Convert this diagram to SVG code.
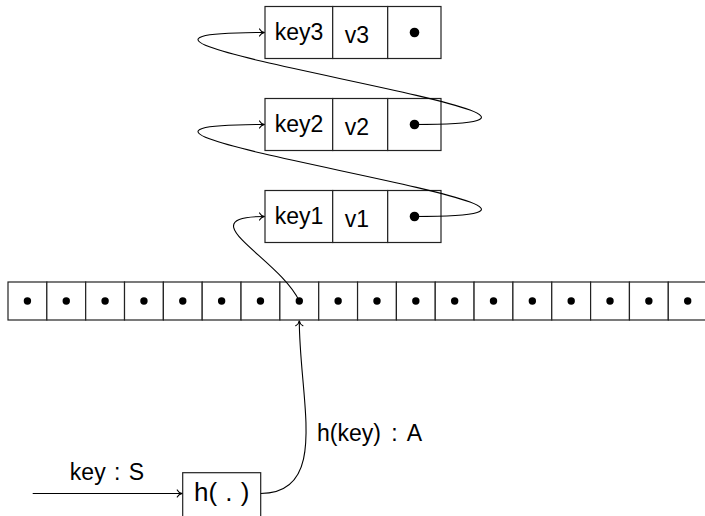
<svg xmlns="http://www.w3.org/2000/svg" width="705" height="516" viewBox="0 0 705 516">
  <style>
    .cell { fill: #fff; stroke: #222; stroke-width: 1.2; }
    .lbl { font-family: "Liberation Sans", Arial, sans-serif; font-size: 23px; fill: #000; text-anchor: middle; }
    .dot { fill: #000; }
    .wire { fill: none; stroke: #000; stroke-width: 1.1; }
  </style>
  <defs>
    <marker id="tip" viewBox="-6 -5 8 10" markerWidth="8" markerHeight="10" refX="0" refY="0" orient="auto" markerUnits="userSpaceOnUse">
      <path d="M -5,-3.6 C -3.8,-1.2 -1.5,-0.3 0,0 C -1.5,0.3 -3.8,1.2 -5,3.6" fill="none" stroke="#000" stroke-width="1.1" stroke-linecap="round"/>
    </marker>
  </defs>

  <!-- bucket array: 18 slots, each holding a pointer -->
  <g id="array">
    <rect class="cell" x="8" y="282" width="38.84" height="38"/>
    <rect class="cell" x="46.84" y="282" width="38.84" height="38"/>
    <rect class="cell" x="85.68" y="282" width="38.84" height="38"/>
    <rect class="cell" x="124.52" y="282" width="38.84" height="38"/>
    <rect class="cell" x="163.36" y="282" width="38.84" height="38"/>
    <rect class="cell" x="202.2" y="282" width="38.84" height="38"/>
    <rect class="cell" x="241.04" y="282" width="38.84" height="38"/>
    <rect class="cell" x="279.88" y="282" width="38.84" height="38"/>
    <rect class="cell" x="318.72" y="282" width="38.84" height="38"/>
    <rect class="cell" x="357.56" y="282" width="38.84" height="38"/>
    <rect class="cell" x="396.4" y="282" width="38.84" height="38"/>
    <rect class="cell" x="435.24" y="282" width="38.84" height="38"/>
    <rect class="cell" x="474.08" y="282" width="38.84" height="38"/>
    <rect class="cell" x="512.92" y="282" width="38.84" height="38"/>
    <rect class="cell" x="551.76" y="282" width="38.84" height="38"/>
    <rect class="cell" x="590.6" y="282" width="38.84" height="38"/>
    <rect class="cell" x="629.44" y="282" width="38.84" height="38"/>
    <rect class="cell" x="668.28" y="282" width="38.84" height="38"/>
    <g class="dot">
      <circle cx="27.42" cy="301" r="3.7"/>
      <circle cx="66.26" cy="301" r="3.7"/>
      <circle cx="105.1" cy="301" r="3.7"/>
      <circle cx="143.94" cy="301" r="3.7"/>
      <circle cx="182.78" cy="301" r="3.7"/>
      <circle cx="221.62" cy="301" r="3.7"/>
      <circle cx="260.46" cy="301" r="3.7"/>
      <circle cx="299.3" cy="301" r="3.7"/>
      <circle cx="338.14" cy="301" r="3.7"/>
      <circle cx="376.98" cy="301" r="3.7"/>
      <circle cx="415.82" cy="301" r="3.7"/>
      <circle cx="454.66" cy="301" r="3.7"/>
      <circle cx="493.5" cy="301" r="3.7"/>
      <circle cx="532.34" cy="301" r="3.7"/>
      <circle cx="571.18" cy="301" r="3.7"/>
      <circle cx="610.02" cy="301" r="3.7"/>
      <circle cx="648.86" cy="301" r="3.7"/>
      <circle cx="687.7" cy="301" r="3.7"/>
    </g>
  </g>

  <!-- chain entries: key | value | next -->
  <g id="entry3">
    <rect class="cell" x="265" y="6.5" width="67.7" height="52"/>
    <rect class="cell" x="332.7" y="6.5" width="55" height="52"/>
    <rect class="cell" x="387.7" y="6.5" width="53.3" height="52"/>
    <text class="lbl" x="299" y="40">key3</text>
    <text class="lbl" x="357" y="42.5">v3</text>
    <circle class="dot" cx="414.5" cy="32.5" r="4.8"/>
  </g>
  <g id="entry2">
    <rect class="cell" x="265" y="98.5" width="67.7" height="52"/>
    <rect class="cell" x="332.7" y="98.5" width="55" height="52"/>
    <rect class="cell" x="387.7" y="98.5" width="53.3" height="52"/>
    <text class="lbl" x="299" y="132">key2</text>
    <text class="lbl" x="357" y="134.5">v2</text>
    <circle class="dot" cx="414.5" cy="124.5" r="4.8"/>
  </g>
  <g id="entry1">
    <rect class="cell" x="265" y="190.5" width="67.7" height="52"/>
    <rect class="cell" x="332.7" y="190.5" width="55" height="52"/>
    <rect class="cell" x="387.7" y="190.5" width="53.3" height="52"/>
    <text class="lbl" x="299" y="224">key1</text>
    <text class="lbl" x="357" y="227">v1</text>
    <circle class="dot" cx="414.5" cy="216.5" r="4.8"/>
  </g>

  <!-- hash function box -->
  <g id="hash">
    <rect class="cell" x="182.7" y="472.7" width="78" height="60"/>
    <text class="lbl" x="221.7" y="501" style="font-size:26px" word-spacing="1">h( . )</text>
  </g>

  <!-- edge labels -->
  <g id="labels">
    <text class="lbl" x="107" y="479.5" word-spacing="2">key : S</text>
    <text class="lbl" x="317" y="440.5" style="text-anchor:start" word-spacing="4">h(key) : A</text>
  </g>

  <g id="connectors">
    <!-- input key into the hash function -->
    <path class="wire" d="M 32.7,493.5 L 182.2,493.5" marker-end="url(#tip)"/>
    <!-- hash value selects a bucket -->
    <path class="wire" d="M 260.7,493.5 C 330,493.5 299.3,400 299.3,320.8" marker-end="url(#tip)"/>
    <!-- bucket points to first entry -->
    <path class="wire" d="M 299.3,301 C 279,258 186,216.5 264.5,216.5" marker-end="url(#tip)"/>
    <!-- next pointers along the chain -->
    <path class="wire" d="M 414.5,216.5 C 695,216.5 -15,124.5 264.5,124.5" marker-end="url(#tip)"/>
    <path class="wire" d="M 414.5,124.5 C 695,124.5 -15,32.5 264.5,32.5" marker-end="url(#tip)"/>
  </g>
</svg>
